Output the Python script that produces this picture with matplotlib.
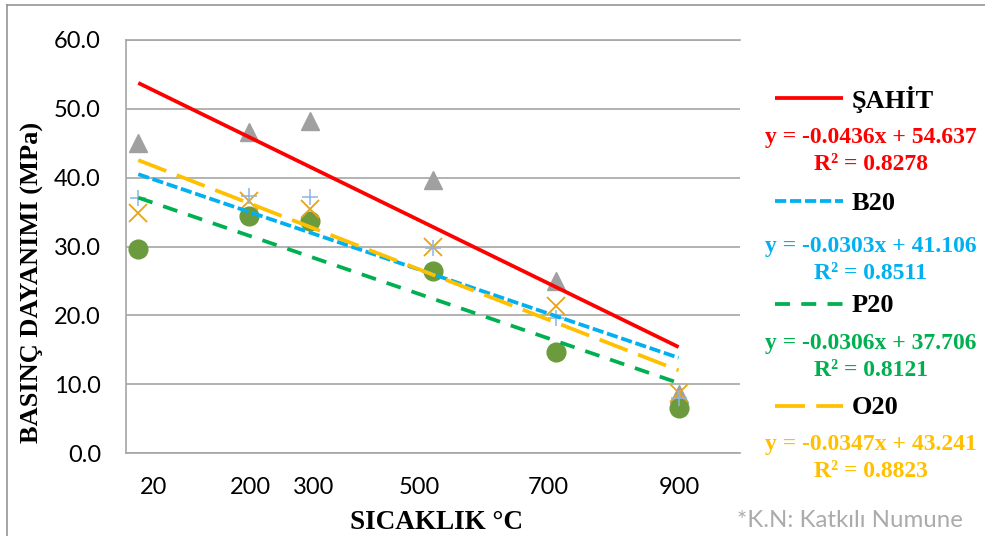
import matplotlib
matplotlib.use('Agg')
import matplotlib.pyplot as plt
import numpy as np
from matplotlib.lines import Line2D
from matplotlib.transforms import ScaledTranslation

# ---------------- data ----------------
temps = [20, 200, 300, 500, 700, 900]
xtick_labels = ['20', '200', '300', '500', '700', '900']
yticks = [0, 10, 20, 30, 40, 50, 60]

sahit = [45.1, 46.6, 48.2, 39.7, 25.0, 8.6]
b20 = [37.0, 37.3, 37.2, 29.8, 19.6, 8.0]
p20 = [29.7, 34.4, 33.7, 26.4, 14.7, 6.6]
o20 = [34.9, 36.6, 35.5, 29.9, 21.4, 8.7]

series_names = ['ŞAHİT', 'B20', 'P20', 'O20']
slopes = [-0.0436, -0.0303, -0.0306, -0.0347]
intercepts = [54.637, 41.106, 37.706, 43.241]
r2_values = [0.8278, 0.8511, 0.8121, 0.8823]

# ---------------- styles ----------------
W, H = 985, 536
def fx(px):
    return px / W
def fy(py):
    return 1 - py / H

trend_colors = ['#FF0000', '#00B0F0', '#00B050', '#FFC000']
trend_styles = ['-', (0, (3, 1)), (0, (4, 3)), (0, (8, 3))]
trend_lw = 2.7
serif = 'Liberation Serif'
sans = 'Lato'
grid_col = '#A6A6A6'

fig = plt.figure(figsize=(W / 100, H / 100), dpi=100)
ax = fig.add_axes([fx(126), fy(453), 614 / W, 413 / H])

# markers
ax.plot(temps, sahit, ls='none', marker='^', ms=13.5, color='#A0A0A0', zorder=3)
ax.plot(temps, p20, ls='none', marker='o', ms=13.5, color='#6B9B3C', zorder=4)
ax.plot(temps, o20, ls='none', marker='x', ms=13, mew=1.3, color='#E8A317', zorder=5)
ax.plot(temps, b20, ls='none', marker='+', ms=12, mew=1.1, color='#8DB4E2', zorder=6)

# trendlines
x_tr = np.array([temps[0], temps[-1]], dtype=float)
for m, b, c, ls in zip(slopes, intercepts, trend_colors, trend_styles):
    ax.plot(x_tr, m * x_tr + b, color=c, ls=ls, lw=trend_lw,
            solid_capstyle='butt', dash_capstyle='butt', zorder=7)

ax.set_xlim(0, 1000)
ax.set_ylim(0, 60)
ax.set_yticks(yticks, [f'{v:.1f}' for v in yticks])
ax.set_xticks(temps, xtick_labels)
ax.tick_params(axis='both', length=0, labelsize=17, labelcolor='black')
ax.tick_params(axis='y', pad=18)
ax.tick_params(axis='x', pad=17.5)
for lab in ax.get_xticklabels() + ax.get_yticklabels():
    lab.set_fontfamily(sans)
label_dx_px = [15, 1.5, 3, -13.5, -7.5, 1]
for lab, dx in zip(ax.get_xticklabels(), label_dx_px):
    lab.set_transform(lab.get_transform() + ScaledTranslation(dx / 100, 0, fig.dpi_scale_trans))

ax.yaxis.grid(True, color=grid_col, lw=1.2)
ax.set_axisbelow(True)
for s in ['right']:
    ax.spines[s].set_visible(False)
for s in ['left', 'bottom', 'top']:
    ax.spines[s].set_color(grid_col)
    ax.spines[s].set_linewidth(1.2)

# axis titles
fig.text(fx(32), fy(282.5), 'BASINÇ DAYANIMI (MPa)', rotation=90, ha='center', va='center',
         fontsize=19, fontweight='bold', family=serif)
fig.text(fx(437), fy(529), 'SICAKLIK °C', ha='center', va='baseline',
         fontsize=19.5, fontweight='bold', family=serif)

# legend with equations
name_base = [108, 209.5, 311.5, 414]
line_y = [98.5, 201, 303.5, 406]
eq_base = [142.7, 251.7, 348.5, 450]
for i in range(4):
    fig.add_artist(Line2D([fx(775), fx(843)], [fy(line_y[i])] * 2, color=trend_colors[i],
                          ls=trend_styles[i], lw=trend_lw, solid_capstyle='butt',
                          dash_capstyle='butt'))
    fig.text(fx(852), fy(name_base[i]), series_names[i], ha='left', va='baseline',
             fontsize=19, fontweight='bold', family=serif, color='black')
    fig.text(fx(871), fy(eq_base[i]), f'y = {slopes[i]:.4f}x + {intercepts[i]:.3f}',
             ha='center', va='baseline', fontsize=17, fontweight='bold', family=serif,
             color=trend_colors[i])
    fig.text(fx(871), fy(eq_base[i] + 27.3), f'R² = {r2_values[i]:.4f}',
             ha='center', va='baseline', fontsize=17, fontweight='bold', family=serif,
             color=trend_colors[i])

fig.text(fx(737), fy(527), '*K.N: Katkılı Numune', ha='left', va='baseline',
         fontsize=17.3, family=sans, color='#ABABAB')

# outer chart border
fig.add_artist(Line2D([fx(6.5), fx(W + 5)], [fy(4.5)] * 2, color='#8C8C8C', lw=1.1))
fig.add_artist(Line2D([fx(6.5)] * 2, [fy(4.5), fy(H + 5)], color='#8C8C8C', lw=1.1))

fig.savefig('out.png', dpi=100)
